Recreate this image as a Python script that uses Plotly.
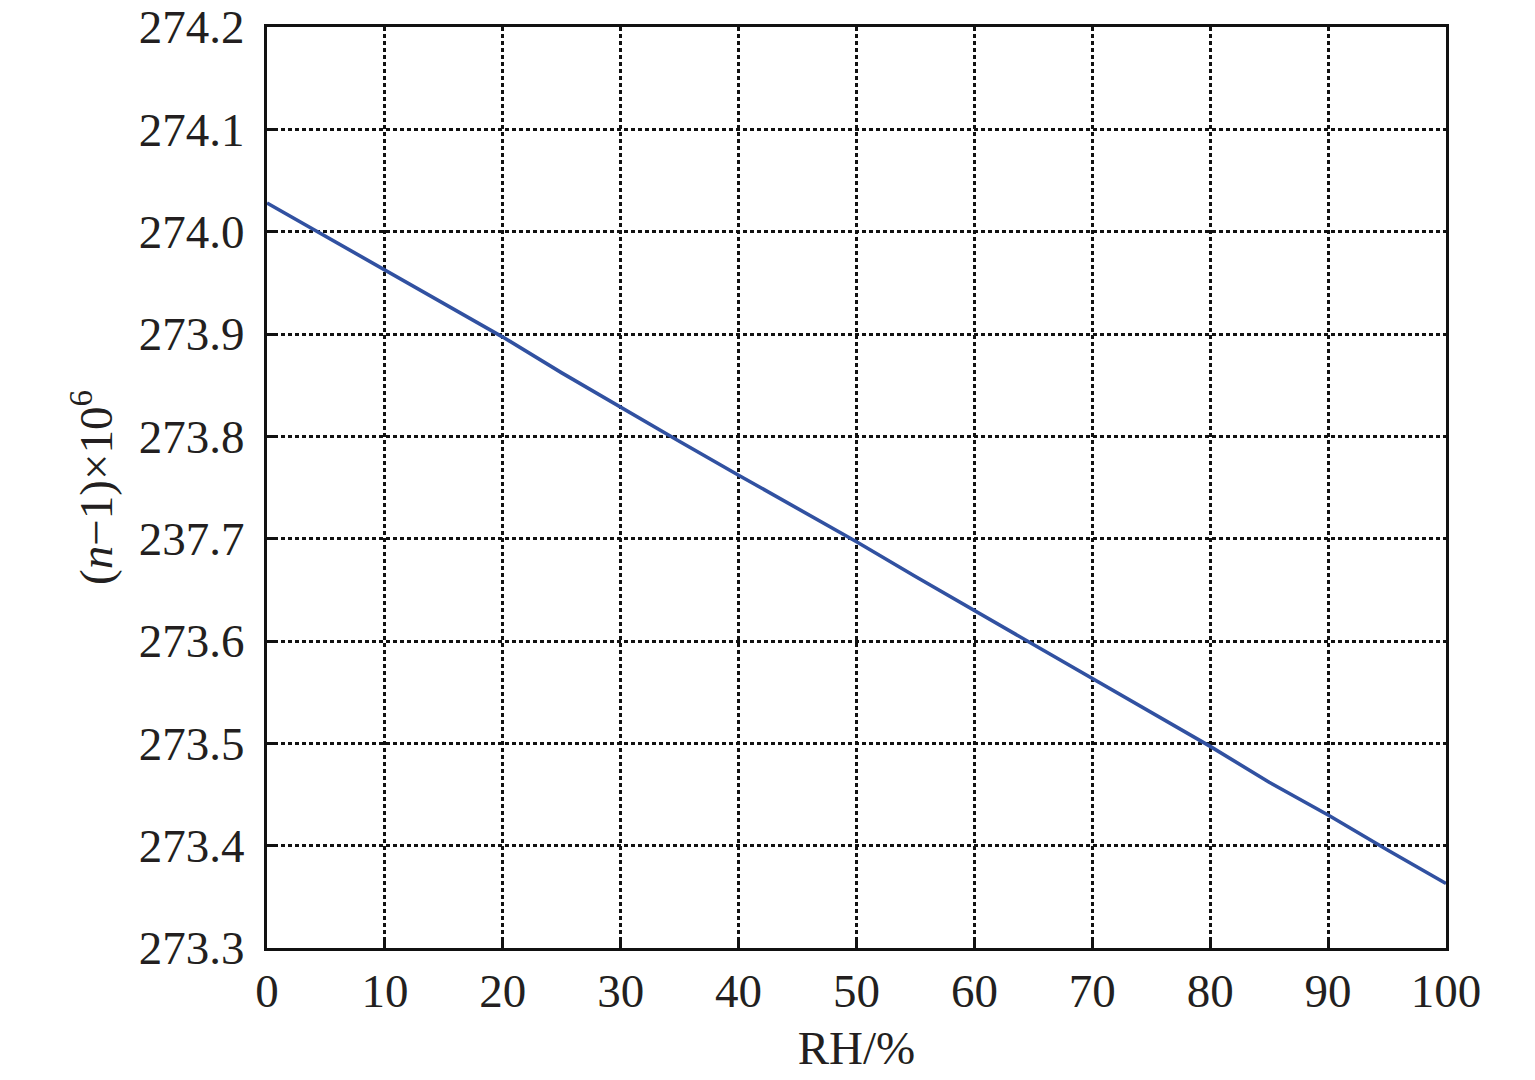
import plotly.graph_objects as go

rh = [0, 5, 10, 15, 20, 25, 30, 35, 40, 45, 50, 55, 60, 65, 70, 75, 80, 85, 90, 95, 100]
refractivity = [274.028, 273.995, 273.962, 273.930, 273.897, 273.862, 273.828, 273.795,
                273.762, 273.730, 273.697, 273.663, 273.630, 273.597, 273.564, 273.530,
                273.497, 273.462, 273.430, 273.396, 273.363]

x_ticks = [0, 10, 20, 30, 40, 50, 60, 70, 80, 90, 100]
y_ticks = [273.3, 273.4, 273.5, 273.6, 273.7, 273.8, 273.9, 274.0, 274.1, 274.2]
y_ticklabels = ["273.3", "273.4", "273.5", "273.6", "237.7", "273.8", "273.9", "274.0", "274.1", "274.2"]

font_family = "Liberation Serif"
text_color = "#231f20"

fig = go.Figure()
fig.add_trace(go.Scatter(
    x=rh, y=refractivity, mode="lines",
    line=dict(color="#3151a1", width=3.6),
    showlegend=False,
))

axis_common = dict(
    showline=True, linecolor="#111111", linewidth=3, mirror=True,
    ticks="inside", ticklen=9, tickwidth=3, tickcolor="#111111",
    showgrid=True, gridcolor="#111111", gridwidth=2.5, griddash="4px,3px",
    zeroline=False, automargin=False, ticklabeloverflow="allow",
    tickfont=dict(family=font_family, size=47, color=text_color),
)

fig.update_xaxes(
    range=[0, 100], tickvals=x_ticks, ticktext=[str(v) for v in x_ticks],
    title=dict(text="RH/%", font=dict(family=font_family, size=47, color=text_color), standoff=15),
    **axis_common,
)
fig.update_yaxes(
    range=[273.3, 274.2], tickvals=y_ticks, ticktext=y_ticklabels,
    title=dict(text="(<i>n</i>−1)×10<sup>6</sup>", font=dict(family=font_family, size=47, color=text_color), standoff=12),
    ticklabelstandoff=10,
    **axis_common,
)

fig.update_layout(
    width=1535, height=1080,
    margin=dict(l=259, r=97, t=19, b=140),
    paper_bgcolor="white", plot_bgcolor="white",
)

fig.write_html("out.html")
